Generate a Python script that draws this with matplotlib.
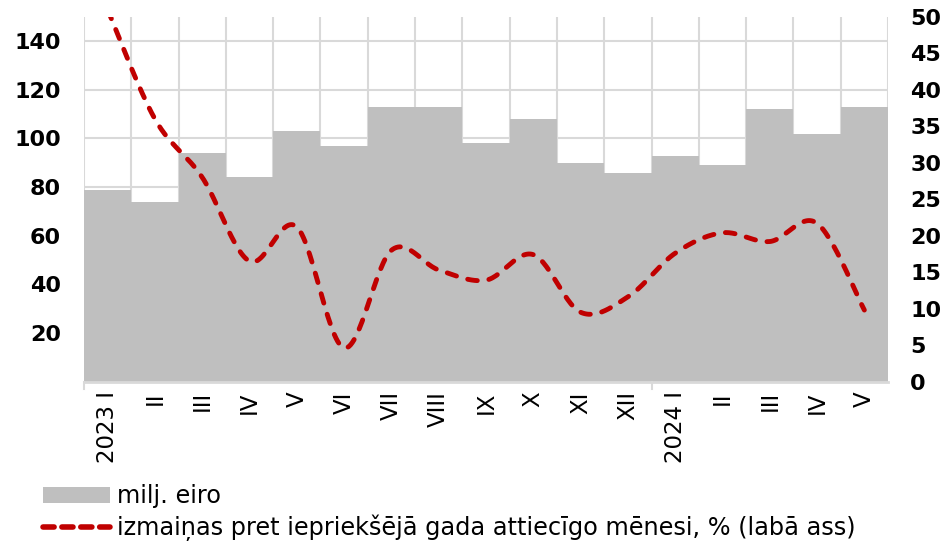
import numpy as np
import matplotlib
matplotlib.use("Agg")
import matplotlib.pyplot as plt
from matplotlib.lines import Line2D
from matplotlib.patches import Patch

# dati
months = ["2023 I", "II", "III", "IV", "V", "VI", "VII", "VIII", "IX", "X", "XI", "XII",
          "2024 I", "II", "III", "IV", "V"]
milj_eiro = [79, 74, 94, 84, 103, 97, 113, 113, 98, 108, 90, 86, 93, 89, 112, 102, 113]
izmainas = [51, 36, 28, 16.5, 21.2, 4.6, 18, 15.3, 13.9, 17.4, 9.5, 11.6, 17.6, 20.4, 19.2, 21.7, 9.8]

bar_color = "#bfbfbf"
line_color = "#c00000"
grid_color = "#d9d9d9"


def smooth(xs, ys, n=30):
    # Excel lidzigs izlidzinajums (Catmull-Rom / Bezier)
    xs = np.asarray(xs, float)
    ys = np.asarray(ys, float)
    px = np.concatenate([[xs[0]], xs, [xs[-1]]])
    py = np.concatenate([[ys[0]], ys, [ys[-1]]])
    outx, outy = [], []
    t = np.linspace(0, 1, n)
    for i in range(1, len(px) - 2):
        p0 = np.array([px[i], py[i]])
        p3 = np.array([px[i + 1], py[i + 1]])
        c1 = p0 + (np.array([px[i + 1], py[i + 1]]) - np.array([px[i - 1], py[i - 1]])) / 6
        c2 = p3 - (np.array([px[i + 2], py[i + 2]]) - np.array([px[i], py[i]])) / 6
        b = ((1 - t) ** 3)[:, None] * p0 + (3 * (1 - t) ** 2 * t)[:, None] * c1 \
            + (3 * (1 - t) * t ** 2)[:, None] * c2 + (t ** 3)[:, None] * p3
        outx.extend(b[:, 0])
        outy.extend(b[:, 1])
    return np.array(outx), np.array(outy)


fig = plt.figure(figsize=(9.47, 5.43), dpi=100)
ax = fig.add_axes([84 / 947, 161.5 / 543, 804 / 947, 364.5 / 543])
ax2 = ax.twinx()

x = np.arange(len(months))
ax.bar(x, milj_eiro, width=1.0, color=bar_color, zorder=2, linewidth=0)

ax.set_xlim(-0.5, len(months) - 0.5)
ax.set_ylim(0, 150)
ax.set_yticks(range(20, 141, 20))
ax.set_axisbelow(True)
ax.yaxis.grid(True, color=grid_color, linewidth=1.5)
ax.set_xticks(np.arange(-0.5, len(months), 1.0), minor=True)
ax.xaxis.grid(True, which="minor", color=grid_color, linewidth=1.5)
ax.set_xticks(x)
ax.set_xticklabels(months, rotation=90, fontsize=16.5, va="top")
ax.tick_params(axis="x", which="both", length=0, pad=7)
ax.tick_params(axis="y", length=0, pad=16.5, labelsize=16)
for lab in ax.get_yticklabels():
    lab.set_fontweight("bold")

# gada atdalitaji zem ass
for xb in [-0.5, 11.5]:
    ax.plot([xb, xb], [0, -0.02], transform=ax.get_xaxis_transform(),
            color=grid_color, linewidth=1.5, clip_on=False)

for s in ["top", "right", "left"]:
    ax.spines[s].set_visible(False)
    ax2.spines[s].set_visible(False)
ax.spines["bottom"].set_color(grid_color)
ax.spines["bottom"].set_linewidth(2)
ax2.spines["bottom"].set_visible(False)

sx, sy = smooth(x, izmainas)
ax2.plot(sx, sy, color=line_color, linewidth=3.5, linestyle=(0, (2.0, 2.4)),
         dash_capstyle="round", zorder=3)
ax2.set_ylim(0, 50)
ax2.set_yticks(range(0, 51, 5))
ax2.tick_params(axis="y", length=0, pad=16, labelsize=16)
for lab in ax2.get_yticklabels():
    lab.set_fontweight("bold")

handles = [
    Patch(facecolor=bar_color, edgecolor="none"),
    Line2D([0], [0], color=line_color, linewidth=4, linestyle=(0, (2.0, 1.4)),
           dash_capstyle="round"),
]
labels = ["milj. eiro", "izmaiņas pret iepriekšējā gada attiecīgo mēnesi, % (labā ass)"]
fig.legend(handles, labels, loc="upper left", bbox_to_anchor=(43 / 947, 0.108),
           frameon=False, fontsize=17.3, handlelength=2.8, handleheight=0.65,
           handletextpad=0.3, labelspacing=0.25, borderpad=0, borderaxespad=0)

fig.savefig("out.png", dpi=100)
